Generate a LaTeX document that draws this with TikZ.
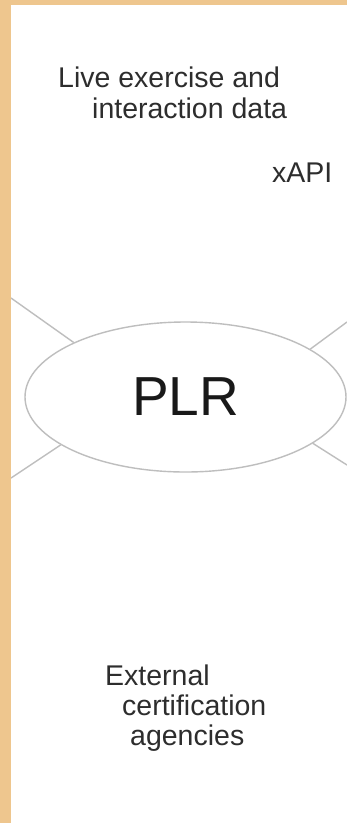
\documentclass[tikz,border=0pt]{standalone}
\usepackage{fontspec}
\newfontfamily\lsans{Liberation Sans}
\usetikzlibrary{shapes.geometric}
\definecolor{frameorange}{RGB}{238,198,142}
\definecolor{linegray}{RGB}{190,190,190}
\definecolor{txtgray}{RGB}{45,45,45}
\tikzset{
  lbl/.style={anchor=base west, inner sep=0pt, text=txtgray, font=\lsans\fontsize{28.5}{34}\selectfont},
  plrnode/.style={ellipse, draw=linegray, line width=1.4pt, minimum width=321pt, minimum height=150pt, inner sep=0pt, font=\lsans\fontsize{55}{60}\selectfont, text=black!90},
  conn/.style={draw=linegray, line width=1.4pt}
}
\begin{document}
\begin{tikzpicture}[x=1pt,y=-1pt]
\useasboundingbox (0,0) rectangle (347,823);
\fill[white] (0,0) rectangle (347,823);
\node[plrnode] (plr) at (185.5,397) {PLR};
\coordinate (ul) at (11,298);
\coordinate (ll) at (11,478);
\coordinate (ur) at (347,322);
\coordinate (lr) at (347,465);
\draw[conn] (plr.154) -- (ul);
\draw[conn] (plr.201) -- (ll);
\draw[conn] (plr.21) -- (ur);
\draw[conn] (plr.-20) -- (lr);
\fill[frameorange] (0,0) rectangle (347,5);
\fill[frameorange] (0,0) rectangle (11,823);
\node[lbl] (live1) at (58,87) {Live exercise and};
\node[lbl] (live2) at (92,118) {interaction data};
\node[lbl] (xapi) at (272,182) {xAPI};
\node[lbl] (ext1) at (105,685) {External};
\node[lbl] (ext2) at (122,715) {certification};
\node[lbl] (ext3) at (130,745) {agencies};
\end{tikzpicture}
\end{document}
